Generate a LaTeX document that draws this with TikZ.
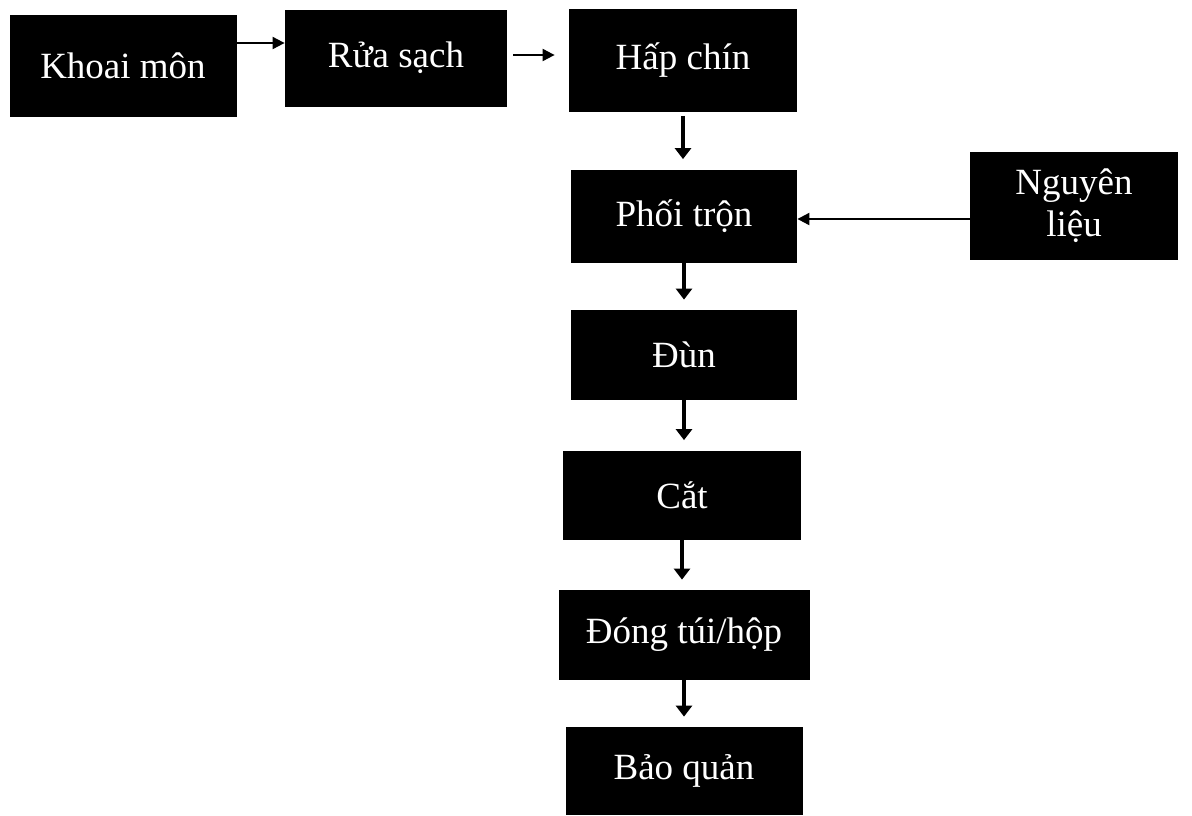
\documentclass[tikz,border=0pt]{standalone}
\usepackage{fontspec}
\setmainfont{Liberation Serif}
\usetikzlibrary{arrows.meta}
\begin{document}
\begin{tikzpicture}[x=0.5pt,y=-0.5pt,
    stepbox/.style={fill=black,text=white,font=\fontsize{18.5}{21}\selectfont,
                    align=center,inner sep=0pt},
    thin arrow/.style={-{Triangle[length=6pt,width=6pt]},line width=1pt},
    thick arrow/.style={-{Triangle[length=5.5pt,width=8pt]},line width=2pt,shorten >=5pt}]

    \useasboundingbox (0,0) rectangle (1192,815);

    \node[stepbox,minimum width=113.5pt,minimum height=51pt] (khoai) at (123,66) {Khoai môn};
    \node[stepbox,minimum width=111pt,minimum height=48.5pt] (rua) at (396,58) {Rửa sạch};
    \node[stepbox,minimum width=114pt,minimum height=51.5pt] (hap) at (683,60) {Hấp chín};
    \node[stepbox,minimum width=113pt,minimum height=46.5pt] (phoi) at (684,216) {Phối trộn};
    \node[stepbox,minimum width=104pt,minimum height=54pt] (nguyen) at (1074,206) {Nguyên\\liệu};
    \node[stepbox,minimum width=113pt,minimum height=45pt] (dun) at (684,355) {Đùn};
    \node[stepbox,minimum width=119pt,minimum height=44.5pt] (cat) at (682,495) {Cắt};
    \node[stepbox,minimum width=125.5pt,minimum height=45pt] (dong) at (684,635) {Đóng túi/hộp};
    \node[stepbox,minimum width=118.5pt,minimum height=44pt] (bao) at (684,771) {Bảo quản};

    % horizontal flow
    \draw[thin arrow] ([yshift=11.5pt]khoai.east) -- ([yshift=11.5pt]khoai.east -| rua.west);
    \draw[thin arrow,shorten <=3pt,shorten >=7pt] ([yshift=1.5pt]rua.east) -- ([yshift=1.5pt]rua.east -| hap.west);
    \draw[thin arrow] ([yshift=-6.5pt]nguyen.west) -- ([yshift=-6.5pt]nguyen.west -| phoi.east);

    % vertical flow
    \draw[thick arrow,shorten <=2pt] (hap.south) -- (hap.south |- phoi.north);
    \draw[thick arrow] (phoi.south) -- (dun.north);
    \draw[thick arrow] (dun.south) -- (dun.south |- cat.north);
    \draw[thick arrow] (cat.south) -- (cat.south |- dong.north);
    \draw[thick arrow] (dong.south) -- (bao.north);

\end{tikzpicture}
\end{document}
